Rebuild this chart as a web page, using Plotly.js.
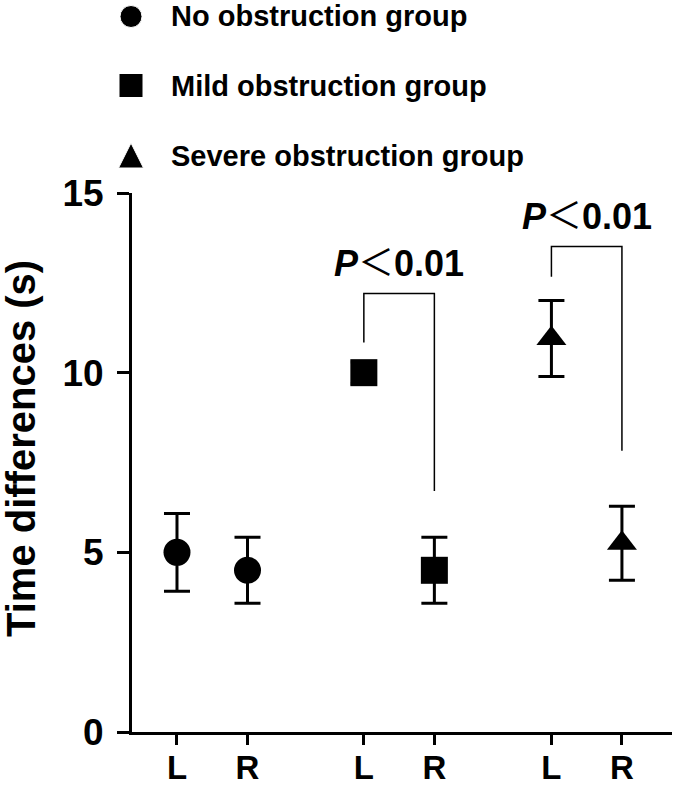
<!DOCTYPE html>
<html>
<head>
<meta charset="utf-8">
<script src="https://cdn.plot.ly/plotly-3.0.1.min.js"></script>
<style>html,body{margin:0;padding:0;background:#fff;}</style>
</head>
<body>
<div id="chart" style="width:685px;height:786px;"></div>
<script>
// ---- data ----
var groupNames = ["No obstruction group", "Mild obstruction group", "Severe obstruction group"];
var sideLabels = ["L", "R"];
var noObsMean = [5.0, 4.5];
var noObsErr = [1.08, 0.92];
var mildMean = [10.0, 4.5];
var mildErr = [0.3, 0.92];
var severeMean = [10.95, 5.25];
var severeErr = [1.06, 1.03];
var tickText = ["L", "R", "L", "R", "L", "R"];
var yTitle = "Time differences (s)";
var pLabelHtml = "<i>P</i><span style=\"font-weight:normal\">＜</span>0.01";
// significance brackets: [left end value, top value, right end value]
var mildBracket = [10.84, 12.2, 6.71];
var severeBracket = [12.67, 13.51, 7.83];

// ---- layout (positions / styles) ----
var xPos = [1, 2, 3.65, 4.65, 6.31, 7.31];
var symbols = ["circle", "square", "triangle-up"];
var means = [noObsMean, mildMean, severeMean];
var errs = [noObsErr, mildErr, severeErr];

// hand-drawn legend: marker positions in pixels of the top band
var legSymbols = ["circle", "square", "arrow-up"];
var legSizes = [22, 24, 25];
var legMarkerX = [131, 131, 131];
var legMarkerY = [16.5, 85.5, 143];
var legTextY = [16, 86, 156];

var FONT = "Liberation Sans, Arial, Helvetica, sans-serif";
var W = 685, H = 786, ML = 100, MR = 13, MB = 54, PLOT_TOP = 193, AXIS_X = 132;
var paperW = W - ML - MR;
var paperH = H - MB;            // top margin is 0
var mainTop = (paperH - PLOT_TOP) / paperH;
var mainLeft = (AXIS_X - ML) / paperW;
var legBottom = mainTop + 0.004;

var traces = groupNames.map(function (name, i) {
  return {
    type: "scatter",
    mode: "markers",
    name: name,
    showlegend: false,
    x: [xPos[2 * i], xPos[2 * i + 1]],
    y: means[i],
    marker: { symbol: symbols[i], size: i === 2 ? 26 : 27, color: "#000", opacity: 1 },
    error_y: { type: "data", array: errs[i], visible: true, color: "#000", thickness: 3, width: 13 },
    hoverinfo: "x+y"
  };
});

traces.push({
  type: "scatter",
  mode: "markers",
  xaxis: "x2", yaxis: "y2",
  x: legMarkerX,
  y: legMarkerY,
  cliponaxis: false,
  showlegend: false,
  hoverinfo: "skip",
  marker: { symbol: legSymbols, size: legSizes, color: "#000", opacity: 1 }
});

function bracket(xl, xr, b) {
  return {
    type: "path",
    xref: "x", yref: "y",
    path: "M " + xl + "," + b[0] + " L " + xl + "," + b[1] + " L " + xr + "," + b[1] + " L " + xr + "," + b[2],
    line: { color: "#000", width: 1.5 }
  };
}

var annotations = [
  {
    xref: "paper", yref: "paper",
    x: (21 - ML) / paperW, y: (paperH - 449) / paperH,
    xanchor: "center", yanchor: "middle",
    text: yTitle,
    textangle: -90,
    showarrow: false,
    borderpad: 0,
    font: { family: FONT, size: 40, color: "#000", weight: "bold" }
  },
  {
    xref: "x", yref: "y",
    x: (xPos[2] + xPos[3]) / 2, y: 13.05,
    text: pLabelHtml,
    showarrow: false,
    font: { family: FONT + ", Noto Sans CJK SC", size: 36, color: "#000", weight: "bold" }
  },
  {
    xref: "x", yref: "y",
    x: (xPos[4] + xPos[5]) / 2, y: 14.35,
    text: pLabelHtml,
    showarrow: false,
    font: { family: FONT + ", Noto Sans CJK SC", size: 36, color: "#000", weight: "bold" }
  }
];
groupNames.forEach(function (name, i) {
  annotations.push({
    xref: "paper", yref: "paper",
    x: (169 - ML) / paperW, y: (paperH - legTextY[i]) / paperH,
    xanchor: "left", yanchor: "middle",
    text: name,
    showarrow: false,
    font: { family: FONT, size: 29, color: "#000", weight: "bold" }
  });
});

var layout = {
  width: W,
  height: H,
  margin: { l: ML, r: MR, t: 0, b: MB },
  paper_bgcolor: "#fff",
  plot_bgcolor: "#fff",
  font: { family: FONT, color: "#000", weight: "bold" },
  showlegend: false,
  xaxis: {
    domain: [mainLeft, 1],
    range: [0.362, 8.02],
    tickmode: "array",
    tickvals: xPos,
    ticktext: tickText,
    ticks: "outside",
    ticklen: 10,
    tickwidth: 3,
    tickcolor: "#000",
    showline: true,
    linewidth: 3,
    linecolor: "#000",
    showgrid: false,
    zeroline: false,
    ticklabelstandoff: -6,
    tickfont: { family: FONT, size: 33, color: "#000", weight: "bold" }
  },
  yaxis: {
    domain: [0, mainTop],
    range: [0, 15],
    tickmode: "array",
    tickvals: [0, 5, 10, 15],
    ticks: "outside",
    ticklen: 12,
    tickwidth: 3,
    tickcolor: "#000",
    showline: true,
    linewidth: 3,
    linecolor: "#000",
    showgrid: false,
    zeroline: false,
    ticklabelstandoff: 6,
    tickfont: { family: FONT, size: 37, color: "#000", weight: "bold" }
  },
  xaxis2: {
    domain: [0, 1], anchor: "y2",
    range: [ML, W - MR],
    visible: false, fixedrange: true
  },
  yaxis2: {
    domain: [legBottom, 1], anchor: "x2",
    range: [paperH * (1 - legBottom), 0],
    visible: false, fixedrange: true
  },
  shapes: [
    bracket(xPos[2], xPos[3], mildBracket),
    bracket(xPos[4], xPos[5], severeBracket)
  ],
  annotations: annotations
};

Plotly.newPlot("chart", traces, layout, { displayModeBar: false, staticPlot: true });
</script>
</body>
</html>
